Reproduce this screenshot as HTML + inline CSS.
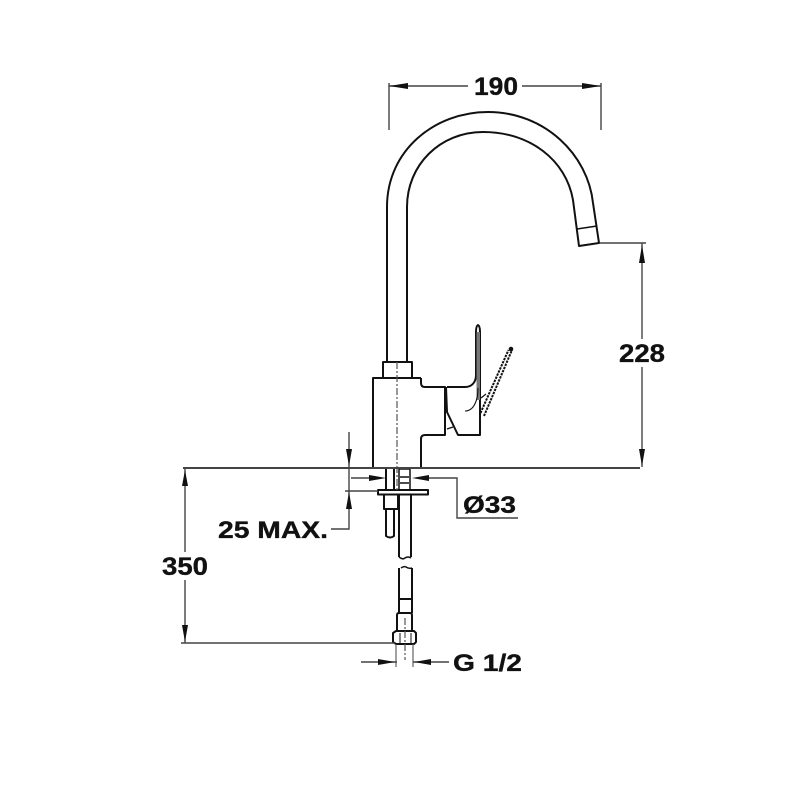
<!DOCTYPE html>
<html><head><meta charset="utf-8"><style>
html,body{margin:0;padding:0;background:#fff}
svg{display:block}
text{font-family:"Liberation Sans",sans-serif;font-weight:bold;fill:#111;stroke:#111;stroke-width:.35}
</style></head><body>
<svg width="800" height="800" viewBox="0 0 800 800" xmlns="http://www.w3.org/2000/svg">
<g fill="none" stroke="#111" stroke-width="2" stroke-linejoin="round">
<!-- spout -->
<path d="M387 362V207C387 150 435 112 488 112C545 112 588 155 593 203L599 243L579 246L573 200C566 160 530 132 483 132C440 132 407 165 407 207V362"/>
<path d="M577 229L597 226" stroke-width="1.500"/>
<!-- collar and body -->
<path d="M383 378V362H412V378"/>
<path d="M421 378H373V468H421V439Q421 435 425 435H445V387H425Q421 387 421 383V378"/>
<!-- lever -->
<path d="M447 387H465C472 387 476 382 476 375V332Q476 326 478 325Q480 326 480 332V435H458L447 412L446 387"/>
<path d="M476.500 332H480V400H476.500Z" fill="#777" stroke="none"/>
<path d="M465 411C474 411 478 400 478 388" stroke-width="1.100"/>
<path d="M447 429L453 427M481 398L486 394" stroke-width="1.200"/>
<!-- handle dashed -->
<path d="M480.500 413L508.500 350" stroke-width="2" stroke-dasharray="2.400 1"/>
<path d="M484 416L512 350" stroke-width="2" stroke-dasharray="2.400 1"/>
<circle cx="511" cy="349" r="2.300" fill="#111" stroke="none"/>
<!-- under counter -->
<path d="M386 468V490M394 468V490"/>
<path d="M399 469H410V489M399 469V489M400 477H409M400 483H409" stroke-width="1.500"/>
<rect x="378" y="490" width="50" height="4.500" stroke-width="2"/>
<path d="M384 495V509H398V495M386 509V536Q390 539 394 536V509"/>
<path d="M399 495V557M411 495V557" stroke-width="2"/>
<path d="M399 557Q403 560 405 558Q408 556 411 558" stroke-width="1.500"/>
<path d="M401 568Q404 566 406 567Q409 569 412 568" stroke-width="1.500"/>
<path d="M399 568V613M412 568V613M400 599H411"/>
<path d="M397 631V615Q397 613 399 613H410Q412 613 412 615V631"/>
<path d="M393 633L396 631H414L416 633V642L414 644H396L393 642Z" stroke-width="2"/>
<path d="M400 633V644M411 633V644" stroke-width="1"/>
<path d="M396 644V667M413 644V667" stroke="#555" stroke-width="1.100"/>
</g>
<!-- centre line -->
<path d="M397 362V490M405 618V660" stroke="#555" stroke-width="1.200" stroke-dasharray="7 2 2 2" fill="none"/>
<!-- dimension lines -->
<g fill="none" stroke="#444" stroke-width="1.400">
<path d="M389 83V130M601 83V130"/>
<path d="M389 86H468M522 86H601"/>
<path d="M600 243H646"/>
<path d="M642 243V339M642 367V467"/>
<path d="M183 468H640" stroke-width="2"/>
<path d="M181 643H395" stroke-width="1.600"/>
<path d="M185 468V552M185 580V643"/>
<path d="M345 491H378"/>
<path d="M349 432V468M349 468V491M349 491V529H331"/>
<path d="M351 478H371M426 478H457V518H518"/>
<path d="M361 662H397M413 662H449"/>
</g>
<g fill="#111">
<path d="M389 86L408 83V89Z"/><path d="M601 86L582 83V89Z"/>
<path d="M642 245L639 263H645Z"/><path d="M642 466L639 449H645Z"/>
<path d="M185 470L182 486H188Z"/><path d="M185 642L182 625H188Z"/>
<path d="M349 466L346 449H352Z"/><path d="M349 492L346 509H352Z"/>
<path d="M386 478L369 475V481Z"/><path d="M412 478L429 475V481Z"/>
<path d="M395 662L378 659V665Z"/><path d="M414 662L431 659V665Z"/>
</g>
<text x="474" y="95" font-size="25" textLength="44" lengthAdjust="spacingAndGlyphs">190</text>
<text x="619" y="362" font-size="25" textLength="46" lengthAdjust="spacingAndGlyphs">228</text>
<text x="162" y="575" font-size="25" textLength="46" lengthAdjust="spacingAndGlyphs">350</text>
<text x="218" y="538" font-size="24" textLength="110" lengthAdjust="spacingAndGlyphs">25 MAX.</text>
<text x="463" y="513" font-size="24" textLength="53" lengthAdjust="spacingAndGlyphs">Ø33</text>
<text x="453" y="671" font-size="24" textLength="69" lengthAdjust="spacingAndGlyphs">G 1/2</text>
</svg>
</body></html>
